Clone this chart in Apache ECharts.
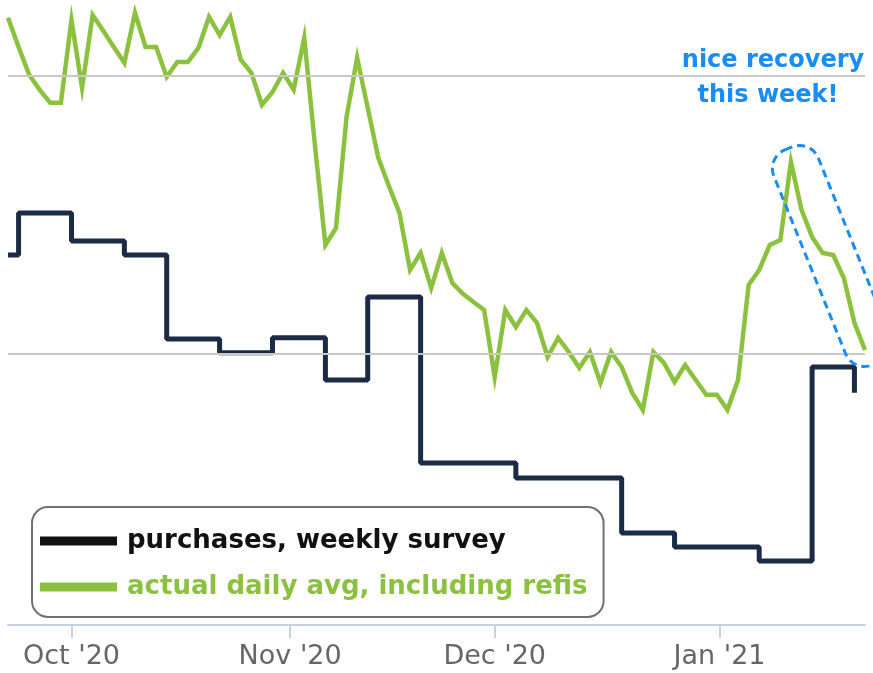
<!DOCTYPE html>
<html>
<head>
<meta charset="utf-8">
<style>
  html, body { margin: 0; padding: 0; background: #fff; }
  #chart { width: 873px; height: 673px; }
</style>
<script src="https://cdn.jsdelivr.net/npm/echarts@6/dist/echarts.min.js"></script>
</head>
<body>
<div id="chart"></div>
<script>
// trading days on the x axis (ordinal: weekends and holidays are skipped)
const days = [
  '2020-09-23', '2020-09-24', '2020-09-25', '2020-09-28', '2020-09-29', '2020-09-30',
  '2020-10-01', '2020-10-02', '2020-10-05', '2020-10-06', '2020-10-07', '2020-10-08', '2020-10-09',
  '2020-10-13', '2020-10-14', '2020-10-15', '2020-10-16',
  '2020-10-19', '2020-10-20', '2020-10-21', '2020-10-22', '2020-10-23',
  '2020-10-26', '2020-10-27', '2020-10-28', '2020-10-29', '2020-10-30',
  '2020-11-02', '2020-11-03', '2020-11-04', '2020-11-05', '2020-11-06',
  '2020-11-09', '2020-11-10', '2020-11-12', '2020-11-13',
  '2020-11-16', '2020-11-17', '2020-11-18', '2020-11-19', '2020-11-20',
  '2020-11-23', '2020-11-24', '2020-11-25', '2020-11-27', '2020-11-30',
  '2020-12-01', '2020-12-02', '2020-12-03', '2020-12-04',
  '2020-12-07', '2020-12-08', '2020-12-09', '2020-12-10', '2020-12-11',
  '2020-12-14', '2020-12-15', '2020-12-16', '2020-12-17', '2020-12-18',
  '2020-12-21', '2020-12-22', '2020-12-23', '2020-12-24',
  '2020-12-28', '2020-12-29', '2020-12-30', '2020-12-31',
  '2021-01-04', '2021-01-05', '2021-01-06', '2021-01-07', '2021-01-08',
  '2021-01-11', '2021-01-12', '2021-01-13', '2021-01-14', '2021-01-15',
  '2021-01-19', '2021-01-20', '2021-01-21', '2021-01-22'
]

// actual daily avg, including refis (one value per trading day)
const dailyAvg = [
  220.9, 210.4, 200.4, 195.0, 190.3, 190.3, 220.1, 195.7, 221.9, 216.2,
  210.4, 204.7, 222.7, 210.4, 210.4, 199.6, 205.0, 205.0, 210.1, 221.2,
  214.7, 221.2, 205.8, 201.1, 189.6, 194.2, 201.1, 195.0, 213.7, 175.5,
  139.2, 145.3, 185.3, 206.5, 188.5, 170.5, 160.4, 150.7, 130.2, 136.3,
  123.7, 136.3, 125.5, 121.6, 118.7, 115.8, 91.7, 115.8, 109.7, 115.8,
  111.2, 98.9, 105.8, 100.7, 95.0, 100.7, 89.6, 100.7, 95.3, 86.0,
  79.9, 100.7, 96.8, 89.9, 96.0, 90.6, 85.3, 85.3, 79.9, 90.6,
  124.8, 130.2, 139.2, 141.0, 169.1, 151.8, 142.1, 136.3, 135.6, 127.3,
  111.2, 101.4
]

// purchases, weekly survey
const weeklyDates = [
  '2020-09-23', '2020-09-24', '2020-10-01', '2020-10-08', '2020-10-15', '2020-10-22',
  '2020-10-29', '2020-11-05', '2020-11-12', '2020-11-19', '2020-12-03', '2020-12-10',
  '2020-12-17', '2020-12-24', '2020-12-31', '2021-01-07', '2021-01-14', '2021-01-21'
]
const weeklyValues = [
  135.6, 150.7, 140.6, 135.6, 105.4, 100.4,
  105.8, 90.6, 120.5, 60.8, 55.4, 55.4,
  35.6, 30.6, 30.6, 25.5, 95.3, 86.0
]

const monthStarts = ['2020-10-01', '2020-11-01', '2020-12-01', '2021-01-01']
const monthLabels = ["Oct '20", "Nov '20", "Dec '20", "Jan '21"]
const gridValues = [100, 200]

const green = '#8cc13f'
const navy = '#1b2b45'
const blue = '#1a8cf5'
const axisColor = '#c4d2e3'
const font = 'DejaVu Sans'

const toTime = s => Date.parse(s + 'T00:00:00Z')
const dayTimes = days.map(toTime)

// position of a calendar date on the ordinal axis (interpolated between trading days)
function ordinalPos (dateStr) {
  const t = toTime(dateStr)
  for (let i = 0; i < dayTimes.length - 1; i++) {
    if (t >= dayTimes[i] && t < dayTimes[i + 1]) {
      return i + (t - dayTimes[i]) / (dayTimes[i + 1] - dayTimes[i])
    }
  }
  return dayTimes.length - 1
}
const tickPos = monthStarts.map(ordinalPos)

const dailyData = dailyAvg.map((v, i) => [i, v])
const weeklyData = weeklyValues.map((v, i) => [days.indexOf(weeklyDates[i]), v])

const myChart = echarts.init(document.getElementById('chart'), null, { renderer: 'canvas' })

const option = {
  animation: false,
  backgroundColor: '#fff',
  grid: { left: 8, right: 8, top: 0, bottom: 48 },
  xAxis: {
    type: 'value',
    min: 0,
    max: days.length - 1,
    splitLine: { show: false },
    axisLine: { show: true, onZero: false, lineStyle: { color: axisColor, width: 2 } },
    axisTick: { show: true, length: 13, customValues: tickPos, lineStyle: { color: axisColor, width: 2 } },
    axisLabel: {
      customValues: tickPos,
      color: '#666',
      fontFamily: font,
      fontSize: 27,
      margin: 18,
      formatter: function (value) {
        let best = 0
        tickPos.forEach((p, i) => { if (Math.abs(p - value) < Math.abs(tickPos[best] - value)) best = i })
        return monthLabels[best]
      }
    }
  },
  yAxis: {
    type: 'value',
    min: 2.5,
    max: 227.3,
    show: false
  },
  legend: {
    orient: 'vertical',
    left: 32,
    top: 507,
    icon: 'rect',
    itemWidth: 77,
    itemHeight: 9,
    itemGap: 20,
    selectedMode: false,
    padding: [21, 16, 17, 8],
    backgroundColor: '#fff',
    borderColor: '#707070',
    borderWidth: 2,
    borderRadius: 16,
    textStyle: { fontFamily: font, fontWeight: 'bold', fontSize: 26, padding: [0, 0, 0, 5] },
    data: [
      { name: 'purchases, weekly survey', itemStyle: { color: '#111', borderWidth: 0 }, textStyle: { color: '#111' } },
      { name: 'actual daily avg, including refis', itemStyle: { color: green, borderWidth: 0 }, textStyle: { color: green } }
    ]
  },
  series: [
    // horizontal grid lines
    {
      name: 'grid',
      type: 'line',
      data: [],
      z: 1,
      silent: true,
      markLine: {
        silent: true,
        symbol: 'none',
        label: { show: false },
        lineStyle: { color: '#c8c8c8', width: 2, type: 'solid' },
        data: gridValues.map(v => ({ yAxis: v }))
      }
    },
    {
      name: 'purchases, weekly survey',
      type: 'line',
      step: 'end',
      z: 2,
      symbol: 'none',
      data: weeklyData,
      itemStyle: { color: navy },
      lineStyle: { color: navy, width: 5 }
    },
    {
      name: 'actual daily avg, including refis',
      type: 'line',
      z: 3,
      symbol: 'none',
      data: dailyData,
      itemStyle: { color: green },
      lineStyle: { color: green, width: 4.5, join: 'miter' }
    }
  ],
  graphic: [
    {
      type: 'text',
      x: 773,
      y: 61,
      z: 20,
      style: { text: 'nice recovery', fill: blue, font: 'bold 24px "DejaVu Sans"', align: 'center', verticalAlign: 'middle' }
    },
    {
      type: 'text',
      x: 768,
      y: 96,
      z: 20,
      style: { text: 'this week!', fill: blue, font: 'bold 24px "DejaVu Sans"', align: 'center', verticalAlign: 'middle' }
    },
    {
      type: 'rect',
      x: 832,
      y: 256,
      rotation: 22 * Math.PI / 180,
      z: 20,
      shape: { x: -24, y: -116, width: 48, height: 232, r: 20 },
      style: { fill: 'none', stroke: blue, lineWidth: 3, lineDash: [8, 5] }
    }
  ]
}

myChart.setOption(option)

window.addEventListener('resize', () => {
  myChart.resize()
})
</script>
</body>
</html>
